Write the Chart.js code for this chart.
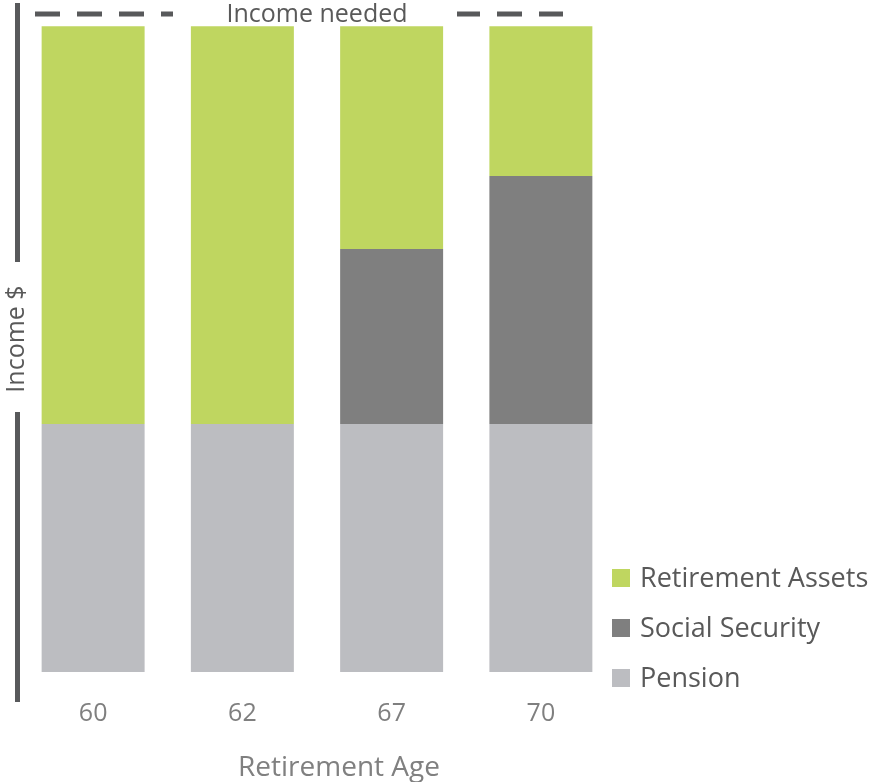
<!doctype html>
<html lang="en">
<head>
  <meta charset="utf-8">
  <title>Retirement income</title>
  <script src="https://cdn.jsdelivr.net/npm/chart.js"></script>
  <style>
    html, body { margin: 0; padding: 0; background: #fff; }
    #wrap { width: 879px; height: 782px; }
  </style>
</head>
<body>
<div id="wrap"><canvas id="incomeChart"></canvas></div>
<script>
  // data (bars total 100, income needed line slightly above)
  const ages = ['60', '62', '67', '70'];
  const pension = [38.4, 38.4, 38.4, 38.4];
  const socialSecurity = [0, 0, 27.1, 38.4];
  const retirementAssets = [61.6, 61.6, 34.5, 23.2];
  const incomeNeeded = 101.9;

  const FONT = "'Open Sans', sans-serif";

  // y axis line with gap for its label, the dashed "Income needed" line,
  // the x axis title and the legend
  const decorations = {
    id: 'decorations',
    afterDraw(chart) {
      const ctx = chart.ctx;
      const area = chart.chartArea;
      const y = chart.scales.y.getPixelForValue(incomeNeeded);

      ctx.save();
      // y axis
      ctx.strokeStyle = '#58595b';
      ctx.lineWidth = 5;
      ctx.beginPath();
      ctx.moveTo(17.5, 3); ctx.lineTo(17.5, 262);
      ctx.moveTo(17.5, 412); ctx.lineTo(17.5, 702);
      ctx.stroke();

      ctx.translate(17, 339);
      ctx.rotate(-Math.PI / 2);
      ctx.fillStyle = '#595959';
      ctx.font = '25px ' + FONT;
      ctx.textAlign = 'center';
      ctx.textBaseline = 'middle';
      ctx.fillText('Income $', 0, 0);
      ctx.restore();

      // income needed line, broken around its label
      ctx.save();
      ctx.beginPath();
      ctx.rect(0, 0, 173, y + 10);
      ctx.rect(457, 0, chart.width - 457, y + 10);
      ctx.clip();
      ctx.strokeStyle = '#58595b';
      ctx.lineWidth = 5;
      ctx.setLineDash([25, 17]);
      ctx.beginPath();
      ctx.moveTo(area.left + 16.5, y);
      ctx.lineTo(563, y);
      ctx.stroke();
      ctx.restore();

      ctx.save();
      ctx.fillStyle = '#595959';
      ctx.font = '25px ' + FONT;
      ctx.textAlign = 'center';
      ctx.textBaseline = 'middle';
      ctx.fillText('Income needed', 317, y + 1);

      // x axis title
      ctx.fillStyle = '#808080';
      ctx.font = '28px ' + FONT;
      ctx.textBaseline = 'alphabetic';
      ctx.fillText('Retirement Age', 339, 776);
      ctx.restore();

      // legend
      ctx.save();
      ctx.font = '27px ' + FONT;
      ctx.textBaseline = 'middle';
      const items = chart.data.datasets.slice().reverse();
      items.forEach(function (ds, i) {
        const cy = 578 + i * 50;
        ctx.fillStyle = ds.backgroundColor;
        ctx.fillRect(612, cy - 9, 18, 18);
        ctx.fillStyle = '#595959';
        ctx.fillText(ds.label, 640, cy + 1);
      });
      ctx.restore();
    }
  };

  const data = {
    labels: ages,
    datasets: [{
      label: 'Pension',
      data: pension,
      backgroundColor: '#bcbdc1'
    }, {
      label: 'Social Security',
      data: socialSecurity,
      backgroundColor: '#7f7f7f'
    }, {
      label: 'Retirement Assets',
      data: retirementAssets,
      backgroundColor: '#bfd660'
    }]
  };

  const config = {
    type: 'bar',
    data: data,
    options: {
      responsive: true,
      maintainAspectRatio: false,
      animation: false,
      layout: {
        padding: { left: 18.5, right: 263.5, top: 14, bottom: 34 }
      },
      datasets: {
        bar: { categoryPercentage: 1, barPercentage: 0.69, borderWidth: 0 }
      },
      plugins: {
        legend: { display: false },
        tooltip: { enabled: false }
      },
      scales: {
        x: {
          stacked: true,
          grid: { display: false },
          border: { display: false },
          ticks: {
            color: '#7f7f7f',
            font: { family: FONT, size: 25 },
            padding: 19
          }
        },
        y: {
          stacked: true,
          display: false,
          min: 0,
          max: incomeNeeded
        }
      }
    },
    plugins: [decorations]
  };

  const incomeChart = new Chart(document.getElementById('incomeChart'), config);
</script>
</body>
</html>
